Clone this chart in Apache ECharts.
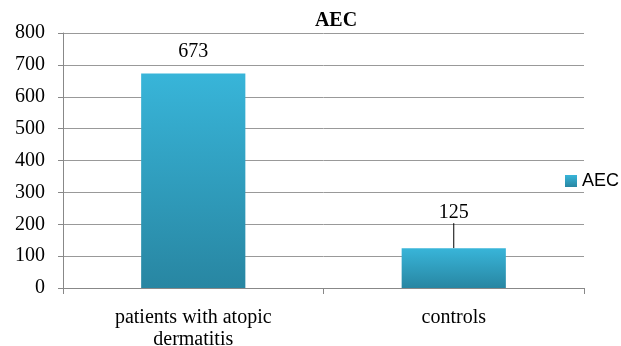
<!DOCTYPE html>
<html><head><meta charset="utf-8">
<script src="https://cdn.jsdelivr.net/npm/echarts@6/dist/echarts.min.js"></script>
<style>html,body{margin:0;padding:0;background:#fff}#c{width:621px;height:346px}</style>
</head><body><div id="c"></div>
<script>
const categories = ['patients with atopic\ndermatitis', 'controls'];
const values = [673, 125];
const seriesName = 'AEC';
const titleText = 'AEC';

const chart = echarts.init(document.getElementById('c'));
const grad = new echarts.graphic.LinearGradient(0, 0, 0, 1, [
  {offset: 0, color: '#38b5d9'},
  {offset: 1, color: '#2886a2'}
]);
chart.setOption({
  animation: false,
  title: {text: titleText, left: 331, top: 6, textAlign: 'center',
    textStyle: {fontFamily: 'Liberation Serif', fontWeight: 'bold', fontSize: 20, color: '#000'}},
  legend: {data: [seriesName], left: 560, top: 167, itemWidth: 12, itemHeight: 12, itemGap: 4,
    icon: 'rect', textStyle: {fontFamily: 'Liberation Sans', fontSize: 18, color: '#000'}},
  grid: {left: 63, right: 37, top: 33, bottom: 58, containLabel: false, outerBoundsMode: 'none'},
  xAxis: {type: 'category', data: categories,
    axisLine: {lineStyle: {color: '#888'}},
    axisTick: {show: true, length: 6, lineStyle: {color: '#888'}},
    axisLabel: {fontFamily: 'Liberation Serif', fontSize: 20, color: '#000', margin: 19, lineHeight: 22}},
  yAxis: {type: 'value', min: 0, max: 800, interval: 100,
    axisLine: {show: true, lineStyle: {color: '#888'}},
    axisTick: {show: true, length: 5, lineStyle: {color: '#888'}},
    splitLine: {lineStyle: {color: '#999'}},
    axisLabel: {fontFamily: 'Liberation Serif', fontSize: 20, color: '#000', margin: 18}},
  series: [{
    name: seriesName, type: 'bar', barWidth: '40%',
    itemStyle: {color: grad},
    data: values.map((v, i) => i === 1 ? {value: v, labelLine: {show: true, lineStyle: {color: '#000', width: 1}}} : {value: v, labelLine: {show: false}}),
    label: {show: true, position: 'top', distance: 12, fontFamily: 'Liberation Serif', fontSize: 20, color: '#000'},
    labelLine: {show: false, lineStyle: {color: '#000', width: 1}},
    labelLayout: function (p) { return p.dataIndex === 1 ? {dy: -13} : {}; }
  }]
});
</script></body></html>
